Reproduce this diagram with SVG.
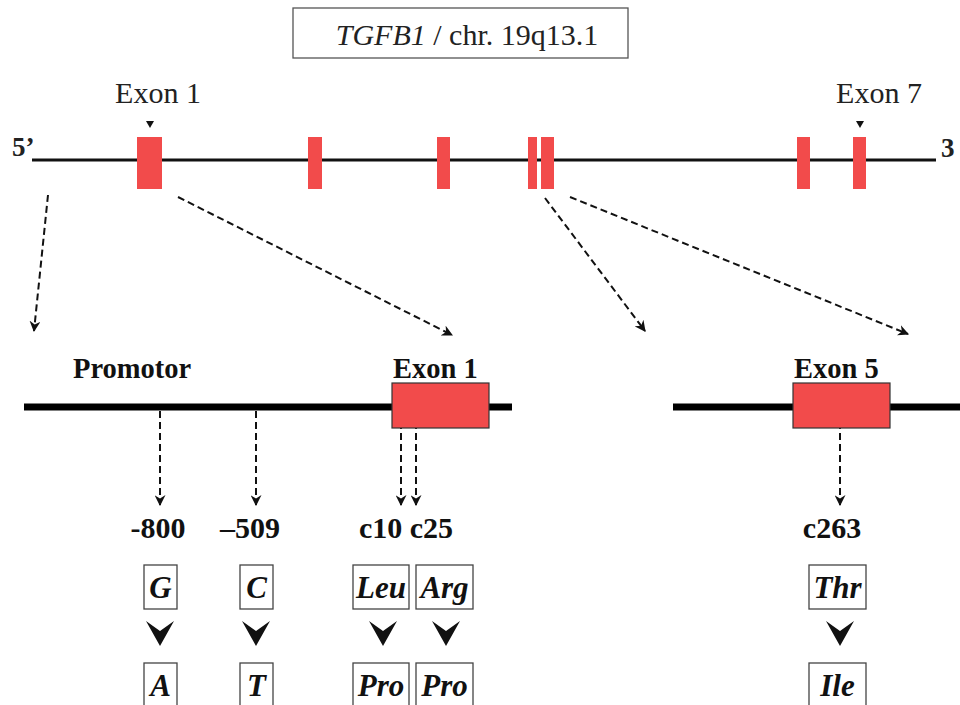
<svg xmlns="http://www.w3.org/2000/svg" width="960" height="705" viewBox="0 0 960 705">
<defs>
<style>
.bg{fill:#fff}
.t{font-family:"Liberation Serif","Times New Roman","DejaVu Serif",serif;fill:#222}
.n{font-size:30px}
.b{font-size:28.5px;font-weight:bold;fill:#111}
.bn{font-size:30px;font-weight:bold;fill:#111}
.bi{font-size:31px;font-weight:bold;font-style:italic;fill:#111}
.ex{fill:#f24b4b}
.exb{fill:#f24b4b;stroke:#333;stroke-width:1.2}
.box{fill:none;stroke:#444;stroke-width:1.3}
.dash{fill:none;stroke:#111;stroke-width:2;stroke-dasharray:7 4}
.chev{fill:#111}
</style>
<marker id="ah" viewBox="0 0 10 10" refX="9" refY="5" markerWidth="11" markerHeight="11" markerUnits="userSpaceOnUse" orient="auto">
<path d="M0,0 L10,5 L0,10 L3,5 Z" fill="#111"/>
</marker>
</defs>
<rect class="bg" x="0" y="0" width="960" height="705"/>

<g id="title">
<rect x="293" y="8" width="335" height="50" fill="#fff" stroke="#555" stroke-width="1.3"/>
<text class="t n" x="467" y="45" text-anchor="middle"><tspan font-style="italic">TGFB1</tspan> / chr. 19q13.1</text>
</g>

<g id="gene">
<line x1="32" y1="160" x2="936" y2="160" stroke="#111" stroke-width="3"/>
<text class="t" x="12" y="156" font-size="27" font-weight="bold" fill="#111">5’</text>
<text class="t" x="941" y="157" font-size="27" font-weight="bold" fill="#111">3</text>
</g>

<g id="exons-top">
<rect class="ex" x="137" y="137" width="25" height="52"/>
<rect class="ex" x="308" y="137" width="14" height="52"/>
<rect class="ex" x="437" y="137" width="13" height="52"/>
<rect class="ex" x="528" y="137" width="9" height="52"/>
<rect class="ex" x="541" y="137" width="13" height="52"/>
<rect class="ex" x="797" y="137" width="13" height="52"/>
<rect class="ex" x="853" y="137" width="13" height="52"/>
</g>

<g id="label-exon1-top">
<text class="t n" x="158" y="103" text-anchor="middle">Exon 1</text>
<path d="M146,121 L154,121 L150,128 Z" fill="#111"/>
</g>
<g id="label-exon7-top">
<text class="t n" x="879" y="103" text-anchor="middle">Exon 7</text>
<path d="M856,121 L864,121 L860,128 Z" fill="#111"/>
</g>

<g id="connectors">
<line class="dash" x1="48" y1="195" x2="34" y2="331" marker-end="url(#ah)"/>
<line class="dash" x1="178" y1="197" x2="452" y2="335" marker-end="url(#ah)"/>
<line class="dash" x1="545" y1="198" x2="645" y2="331" marker-end="url(#ah)"/>
<line class="dash" x1="570" y1="197" x2="908" y2="334" marker-end="url(#ah)"/>
<line class="dash" x1="160" y1="411" x2="160" y2="505" marker-end="url(#ah)"/>
<line class="dash" x1="256" y1="411" x2="256" y2="505" marker-end="url(#ah)"/>
<line class="dash" x1="401" y1="411" x2="401" y2="505" marker-end="url(#ah)"/>
<line class="dash" x1="416" y1="411" x2="416" y2="505" marker-end="url(#ah)"/>
<line class="dash" x1="840" y1="411" x2="840" y2="505" marker-end="url(#ah)"/>
</g>

<g id="region-promotor-exon1">
<line x1="24" y1="407" x2="512" y2="407" stroke="#000" stroke-width="7"/>
<rect class="exb" x="392" y="383" width="97" height="45"/>
<text class="t b" x="73" y="378">Promotor</text>
<text class="t b" x="393" y="378">Exon 1</text>
</g>

<g id="region-exon5">
<line x1="673" y1="407" x2="960" y2="407" stroke="#000" stroke-width="7"/>
<rect class="exb" x="793" y="383" width="97" height="45"/>
<text class="t b" x="794" y="378">Exon 5</text>
</g>

<g id="snp-800">
<text class="t bn" x="158" y="538" text-anchor="middle">-800</text>
<rect class="box" x="144" y="565" width="33" height="44"/>
<text class="t bi" x="160.5" y="598" text-anchor="middle">G</text>
<path class="chev" d="M146,621 L160,631 L174,621 L160,646 Z"/>
<rect class="box" x="144" y="663" width="33" height="44"/>
<text class="t bi" x="160.5" y="696" text-anchor="middle">A</text>
</g>

<g id="snp-509">
<text class="t bn" x="250" y="538" text-anchor="middle">–509</text>
<rect class="box" x="240" y="565" width="33" height="44"/>
<text class="t bi" x="256.5" y="598" text-anchor="middle">C</text>
<path class="chev" d="M242,621 L256,631 L270,621 L256,646 Z"/>
<rect class="box" x="240" y="663" width="33" height="44"/>
<text class="t bi" x="256.5" y="696" text-anchor="middle">T</text>
</g>

<g id="snp-c10-c25">
<text class="t bn" x="406" y="538" text-anchor="middle">c10 c25</text>
<rect class="box" x="353" y="565" width="56" height="44"/>
<text class="t bi" x="381" y="598" text-anchor="middle">Leu</text>
<rect class="box" x="416" y="565" width="57" height="44"/>
<text class="t bi" x="444.5" y="598" text-anchor="middle">Arg</text>
<path class="chev" d="M369,621 L383,631 L397,621 L383,646 Z"/>
<path class="chev" d="M432,621 L446,631 L460,621 L446,646 Z"/>
<rect class="box" x="353" y="663" width="56" height="44"/>
<text class="t bi" x="381" y="696" text-anchor="middle">Pro</text>
<rect class="box" x="416" y="663" width="57" height="44"/>
<text class="t bi" x="444.5" y="696" text-anchor="middle">Pro</text>
</g>

<g id="snp-c263">
<text class="t bn" x="832" y="538" text-anchor="middle">c263</text>
<rect class="box" x="809" y="565" width="57" height="44"/>
<text class="t bi" x="837.5" y="598" text-anchor="middle">Thr</text>
<path class="chev" d="M826,621 L840,631 L854,621 L840,646 Z"/>
<rect class="box" x="809" y="663" width="57" height="44"/>
<text class="t bi" x="837.5" y="696" text-anchor="middle">Ile</text>
</g>
</svg>
